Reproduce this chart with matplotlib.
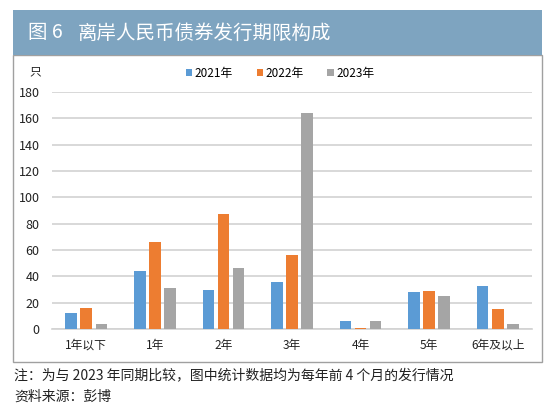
import numpy as np
import matplotlib.pyplot as plt
from matplotlib.patches import Rectangle

plt.rcParams['font.family'] = ['Noto Sans CJK SC', 'DejaVu Sans']

# --- data ---
categories = ['1年以下', '1年', '2年', '3年', '4年', '5年', '6年及以上']
years = ['2021年', '2022年', '2023年']
v2021 = [12, 44, 30, 36, 6, 28, 33]
v2022 = [16, 66, 87, 56, 1, 29, 15]
v2023 = [4, 31, 46, 164, 6, 25, 4]
yticks = [0, 20, 40, 60, 80, 100, 120, 140, 160, 180]

colors = ['#5b9bd5', '#ed7d31', '#a5a5a5']
W, H = 550, 416

fig = plt.figure(figsize=(W / 100, H / 100), dpi=100)

# frame and header band (pixel coords -> figure fraction)
def fx(x):
    return x / W

def fy(y):
    return 1 - y / H

fig.patches.append(Rectangle((fx(12.5), fy(362)), fx(541.5) - fx(12.5), fy(55) - fy(362),
                             transform=fig.transFigure, facecolor='white',
                             edgecolor='#a0a0a0', lw=1.0, zorder=-2))
fig.patches.append(Rectangle((fx(12.5), fy(55)), fx(541.5) - fx(12.5), fy(9.5) - fy(55),
                             transform=fig.transFigure, facecolor='#7ea4c0',
                             edgecolor='none', zorder=-1))
fig.text(fx(28), fy(33), '图 6', color='white', fontsize=14, va='center', ha='left')
fig.text(fx(78), fy(33), '离岸人民币债券发行期限构成', color='white',
         fontsize=14, va='center', ha='left')

ax = fig.add_axes([fx(52), fy(329), fx(532) - fx(52), fy(92) - fy(329)])
ax.set_zorder(2)
ax.patch.set_alpha(0)
x = np.arange(len(categories))
bw = 0.17
off = 0.22
for i, (vals, c, lab) in enumerate(zip([v2021, v2022, v2023], colors, years)):
    ax.bar(x + (i - 1) * off, vals, width=bw, color=c, label=lab, zorder=3)

ax.set_xlim(-0.5, len(categories) - 0.5)
ax.set_ylim(0, 180)
ax.set_yticks(yticks)
ax.set_xticks(x)
ax.set_xticklabels(categories, fontsize=8.5, color='#222222')
ax.tick_params(axis='y', labelsize=9, colors='#222222', length=0, pad=9)
ax.tick_params(axis='x', length=0, pad=7)
ax.grid(axis='y', color='#d2d2d2', lw=1.2, zorder=0)
for s in ['top', 'right', 'left']:
    ax.spines[s].set_visible(False)
ax.spines['bottom'].set_color('#d2d2d2')
ax.spines['bottom'].set_linewidth(1.2)

fig.text(fx(35), fy(72), '只', fontsize=8.5, ha='center', va='center', color='#222222')

leg = ax.legend(loc='center', bbox_to_anchor=(fx(280), fy(73)), bbox_transform=fig.transFigure,
                ncol=3, frameon=False, fontsize=8.5, handlelength=0.55, handleheight=0.55,
                handletextpad=0.2, columnspacing=2.0)

fig.text(fx(14), fy(375), '注：为与 2023 年同期比较，图中统计数据均为每年前 4 个月的发行情况',
         fontsize=10, ha='left', va='center', color='#222222')
fig.text(fx(14), fy(397), '资料来源：彭博', fontsize=10, ha='left', va='center', color='#222222')

fig.savefig('out.png', dpi=100)
